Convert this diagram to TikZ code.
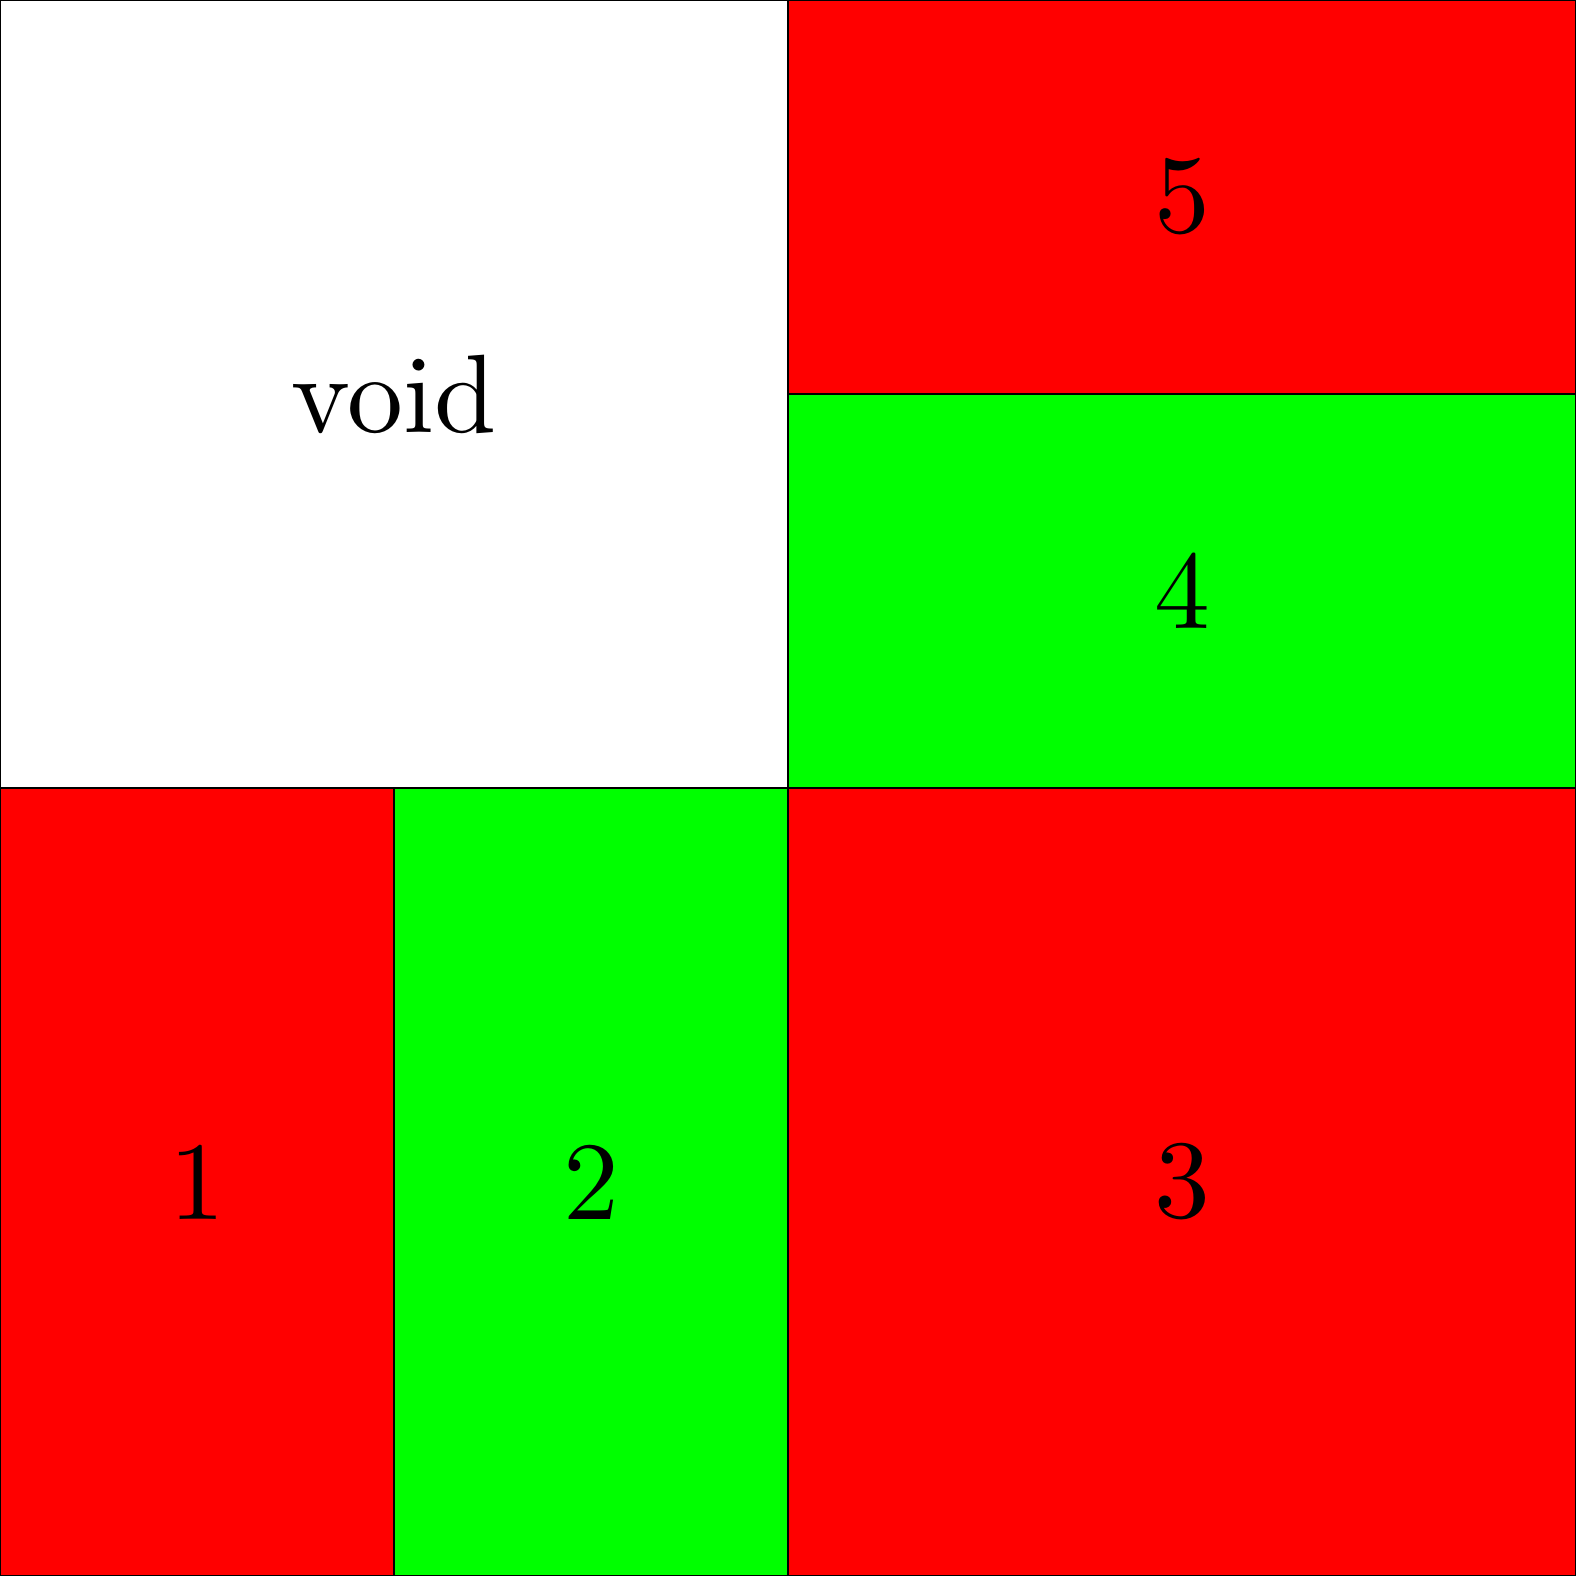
\documentclass[tikz,border=0pt]{standalone}
\usepackage{fontspec}
\setmainfont{lmroman10-regular.otf}
\definecolor{cred}{RGB}{255,0,0}
\definecolor{cgreen}{RGB}{0,255,0}
\begin{document}
\begin{tikzpicture}[x=3.7cm,y=3.7cm,
  cell/.style={draw=black, line width=0.4pt, inner sep=0pt, outer sep=0pt,
    font=\fontsize{29.8}{36}\selectfont}]
\useasboundingbox (0,0) rectangle (4,4);
\node[cell, fill=white, minimum width=7.4cm, minimum height=7.4cm] (void) at (1,3) {void};
\node[cell, fill=cred, minimum width=7.4cm, minimum height=3.7cm] (c5) at (3,3.5) {5};
\node[cell, fill=cgreen, minimum width=7.4cm, minimum height=3.7cm] (c4) at (3,2.5) {4};
\node[cell, fill=cred, minimum width=3.7cm, minimum height=7.4cm] (c1) at (0.5,1) {1};
\node[cell, fill=cgreen, minimum width=3.7cm, minimum height=7.4cm] (c2) at (1.5,1) {2};
\node[cell, fill=cred, minimum width=7.4cm, minimum height=7.4cm] (c3) at (3,1) {3};
\end{tikzpicture}
\end{document}
